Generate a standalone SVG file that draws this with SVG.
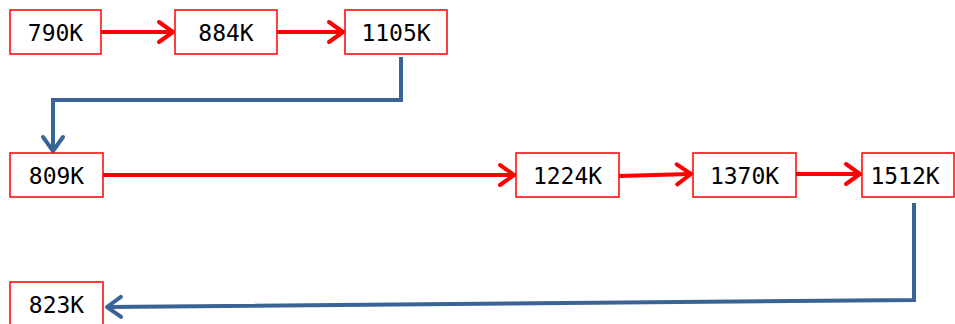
<svg xmlns="http://www.w3.org/2000/svg" width="955" height="324" viewBox="0 0 955 324">
<style>
.box{fill:#fff;stroke:#ff0000;stroke-width:1.5}
.lbl{font-family:"DejaVu Sans Mono","Liberation Mono",monospace;font-size:23px;fill:#000;text-anchor:middle}
.red{fill:none;stroke:#ff0000;stroke-width:4}
.blue{fill:none;stroke:#3a6496;stroke-width:4;stroke-linejoin:miter}
</style>
<defs>
<marker id="ar" markerUnits="userSpaceOnUse" markerWidth="22" markerHeight="26" refX="17" refY="13" orient="auto" viewBox="0 0 22 26">
<path d="M3,3 L17,13 L3,23" fill="none" stroke="#ff0000" stroke-width="4" stroke-linecap="round" stroke-linejoin="round"/>
</marker>
<marker id="ab" markerUnits="userSpaceOnUse" markerWidth="22" markerHeight="26" refX="17" refY="13" orient="auto" viewBox="0 0 22 26">
<path d="M3,3 L17,13 L3,23" fill="none" stroke="#3a6496" stroke-width="4" stroke-linecap="round" stroke-linejoin="round"/>
</marker>
</defs>
<g id="connectors">
<line class="red" x1="101" y1="32" x2="173" y2="32" marker-end="url(#ar)"/>
<line class="red" x1="277" y1="32" x2="343" y2="32" marker-end="url(#ar)"/>
<polyline class="blue" points="401,57 401,100 53,100 53,151" marker-end="url(#ab)"/>
<line class="red" x1="103" y1="175" x2="514" y2="175" marker-end="url(#ar)"/>
<line class="red" x1="619" y1="176" x2="691" y2="174" marker-end="url(#ar)"/>
<line class="red" x1="796" y1="174" x2="860" y2="174" marker-end="url(#ar)"/>
<polyline class="blue" points="914,203 914,300 107,307" marker-end="url(#ab)"/>
</g>
<g id="n790"><rect class="box" x="10" y="10" width="91" height="44"/><text class="lbl" x="55.5" y="41">790K</text></g>
<g id="n884"><rect class="box" x="175" y="10" width="102" height="44"/><text class="lbl" x="226" y="41">884K</text></g>
<g id="n1105"><rect class="box" x="345" y="10" width="102" height="44"/><text class="lbl" x="396" y="41">1105K</text></g>
<g id="n809"><rect class="box" x="10" y="153" width="93" height="44"/><text class="lbl" x="56.5" y="184">809K</text></g>
<g id="n1224"><rect class="box" x="516" y="153" width="103" height="44"/><text class="lbl" x="567.5" y="184">1224K</text></g>
<g id="n1370"><rect class="box" x="693" y="153" width="103" height="44"/><text class="lbl" x="744.5" y="184">1370K</text></g>
<g id="n1512"><rect class="box" x="862" y="153" width="92" height="44"/><text class="lbl" x="905" y="184">1512K</text></g>
<g id="n823"><rect class="box" x="10" y="282" width="93" height="50"/><text class="lbl" x="56.5" y="313">823K</text></g>
</svg>
